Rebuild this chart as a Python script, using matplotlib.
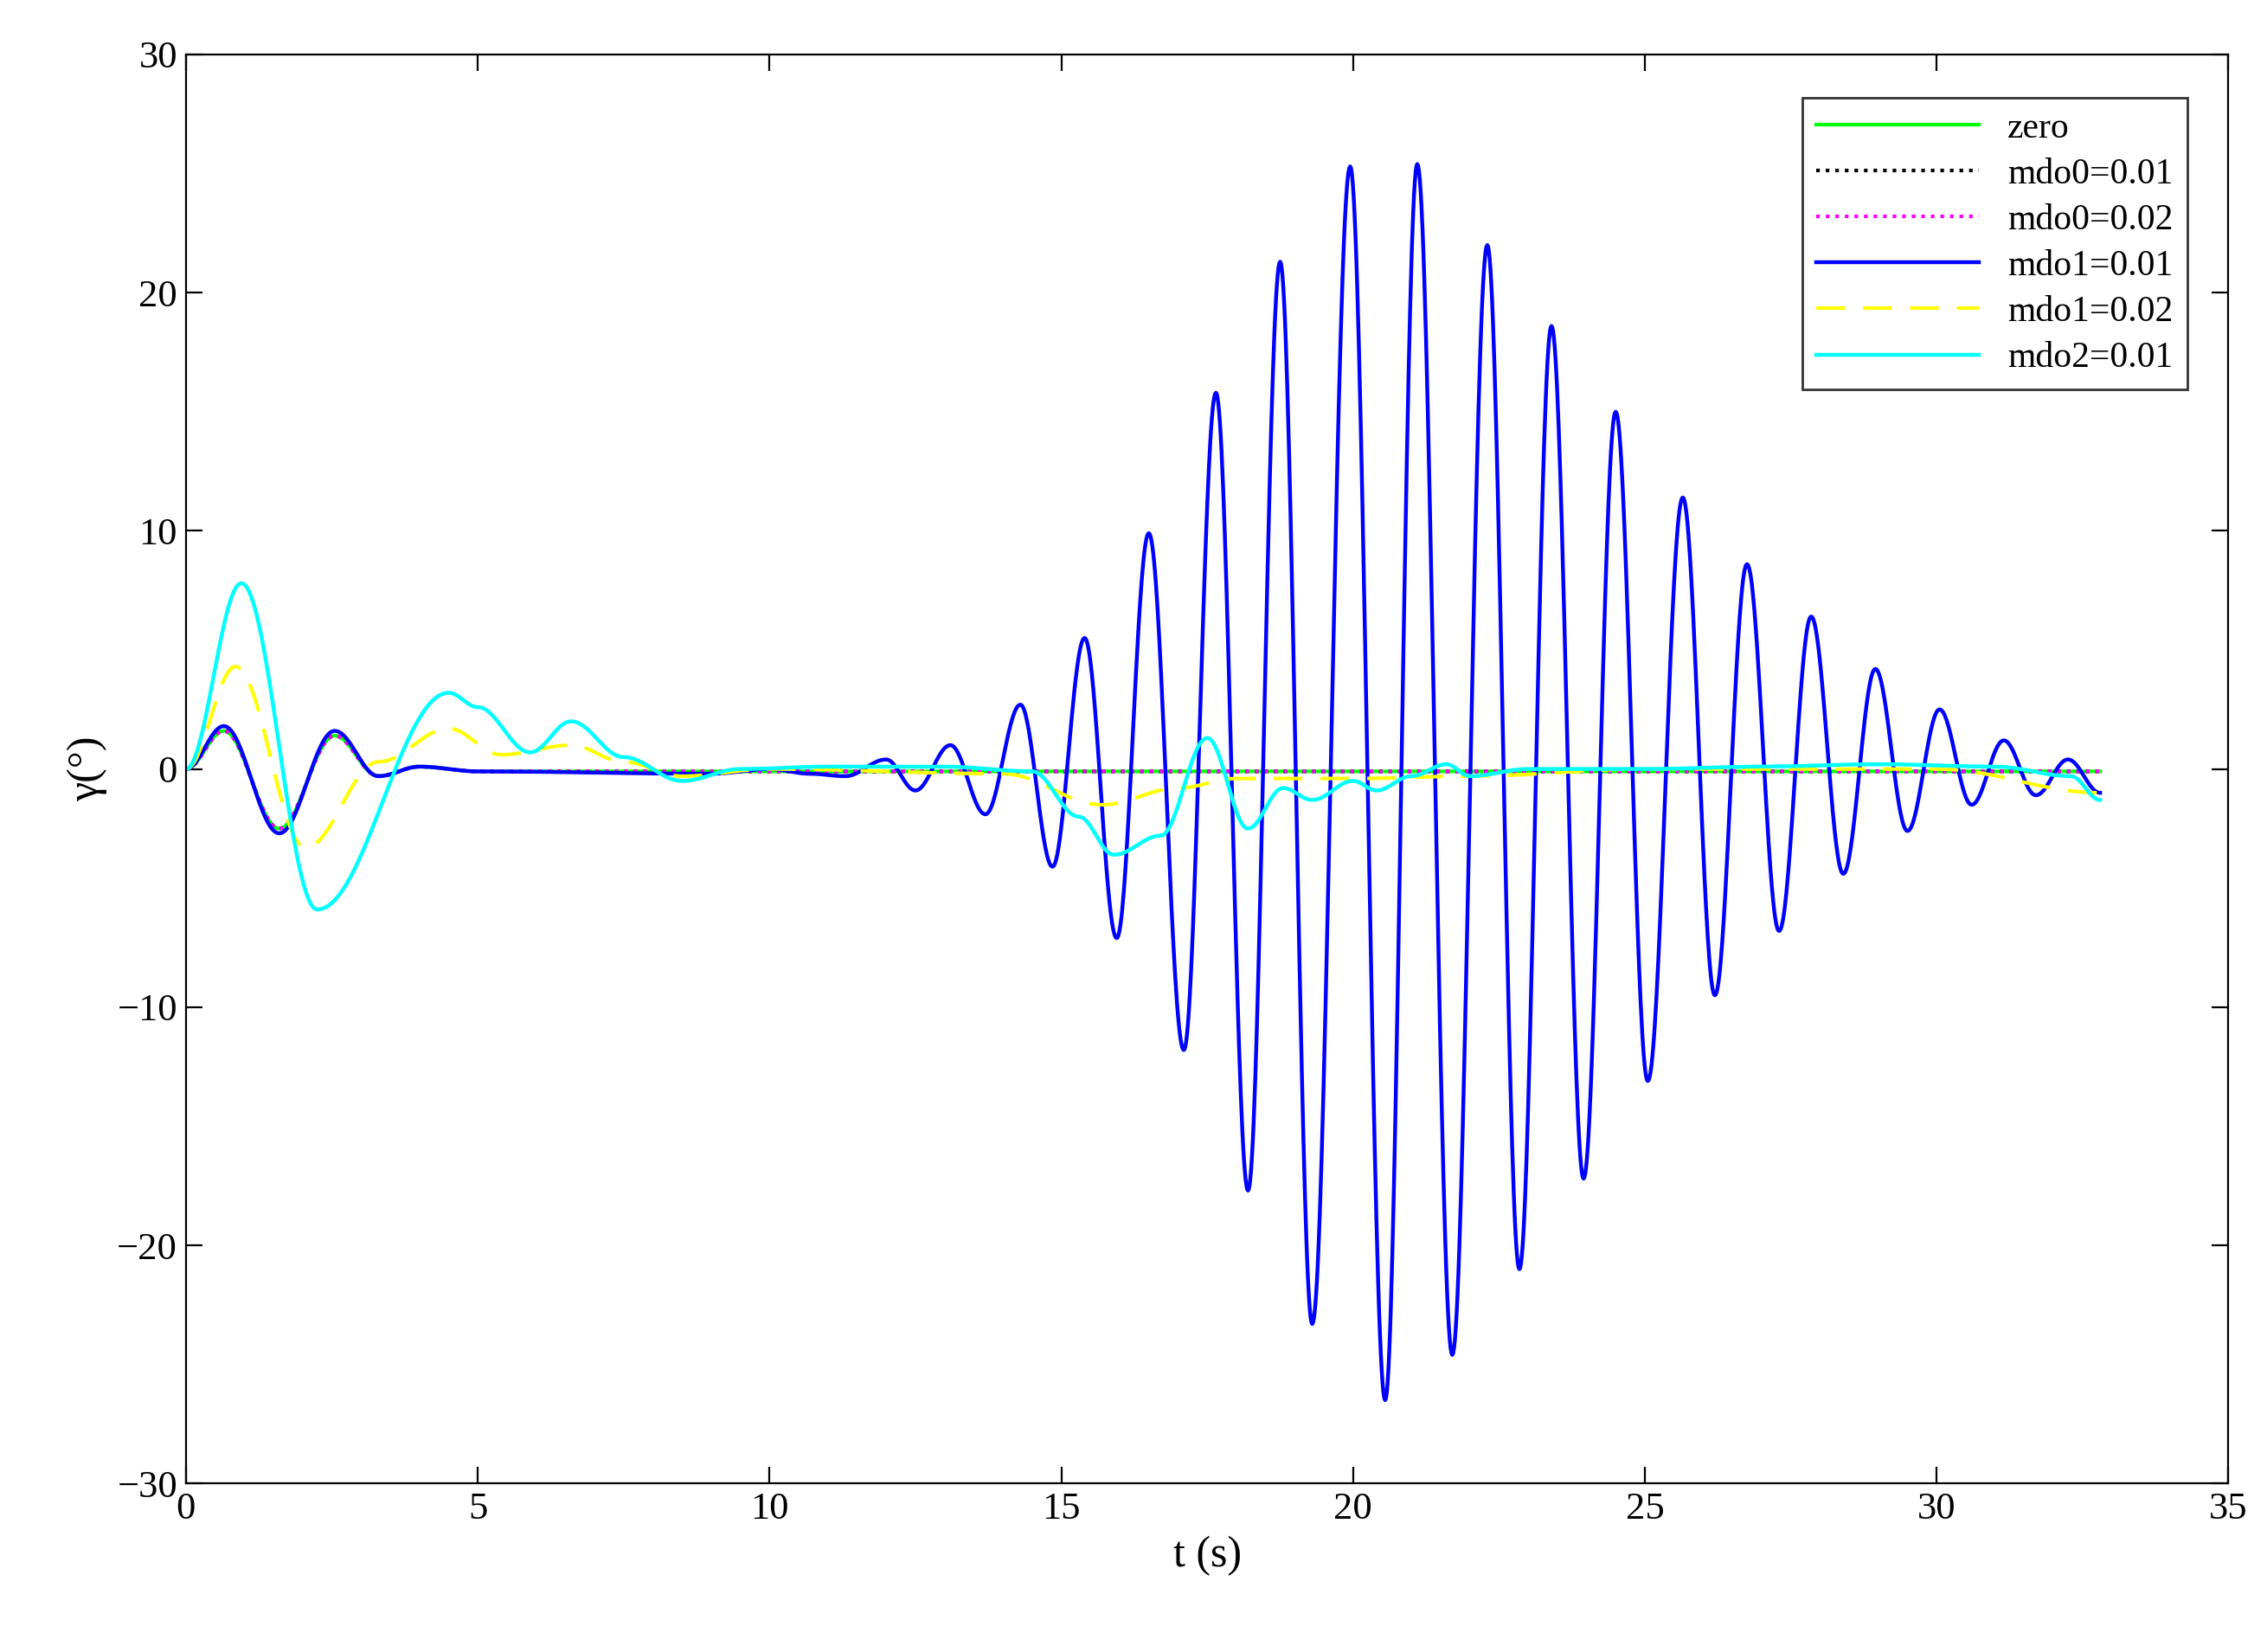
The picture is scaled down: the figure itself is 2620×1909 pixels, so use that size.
import matplotlib
matplotlib.use("Agg")
import matplotlib.pyplot as plt
import numpy as np

# key points (time s, gamma deg)
zero_t = [0, 0.65, 1.6, 2.55, 3.3, 4.0, 5.0, 10.0, 20.0, 32.8]
zero_g = [0, 1.6, -2.5, 1.4, -0.3, 0.1, -0.1, -0.1, -0.1, -0.1]

mdo1_001_t = [0, 0.65, 1.6, 2.55, 3.3, 4.0, 5.0, 9.0, 10.0, 10.7, 11.3, 12.0, 12.5, 13.1,
              13.7, 14.3, 14.85, 15.4, 15.95, 16.5, 17.1, 17.65, 18.2, 18.75, 19.3,
              19.95, 20.55, 21.1, 21.7, 22.3, 22.85, 23.4, 23.95, 24.5, 25.05, 25.65,
              26.2, 26.75, 27.3, 27.85, 28.4, 28.95, 29.5, 30.05, 30.6, 31.15, 31.7,
              32.25, 32.8]
mdo1_001_g = [0, 1.8, -2.7, 1.6, -0.3, 0.1, -0.1, -0.2, 0.0, -0.2, -0.3, 0.4, -0.9, 1.0,
              -1.9, 2.7, -4.1, 5.5, -7.1, 9.9, -11.8, 15.8, -17.7, 21.3, -23.3,
              25.3, -26.5, 25.4, -24.6, 22.0, -21.0, 18.6, -17.2, 15.0, -13.1, 11.4,
              -9.5, 8.6, -6.8, 6.4, -4.4, 4.2, -2.6, 2.5, -1.5, 1.2, -1.1,
              0.4, -1.0]

mdo1_002_t = [0, 0.85, 2.05, 3.3, 4.5, 5.4, 6.6, 7.5, 8.5, 10.0, 14.0, 15.7, 17.0, 18.0,
              20.0, 22.0, 25.0, 30.0, 32.8]
mdo1_002_g = [0, 4.3, -3.3, 0.3, 1.7, 0.6, 1.0, 0.3, -0.3, 0.0, -0.2, -1.5, -0.8, -0.4,
              -0.4, -0.3, 0.0, 0.0, -1.0]

mdo2_001_t = [0, 0.95, 2.25, 4.5, 5.0, 5.9, 6.6, 7.5, 8.5, 9.5, 11.0, 13.0, 14.5, 15.3,
              15.9, 16.7, 17.5, 18.2, 18.8, 19.3, 20.0, 20.4, 21.0, 21.6, 22.0, 23.0,
              25.0, 27.0, 29.0, 31.0, 32.3, 32.8]
mdo2_001_g = [0, 7.8, -5.9, 3.2, 2.6, 0.7, 2.0, 0.5, -0.5, 0.0, 0.1, 0.1, -0.1, -2.0,
              -3.6, -2.8, 1.3, -2.5, -0.8, -1.3, -0.5, -0.9, -0.3, 0.2, -0.3, 0.0,
              0.0, 0.1, 0.2, 0.1, -0.3, -1.3]


def smooth(t_keys, g_keys, n=40):
    """Half-cosine blend between consecutive key points."""
    ts, gs = [], []
    s = np.linspace(0, 1, n, endpoint=False)
    w = (1 - np.cos(np.pi * s)) / 2
    for i in range(len(t_keys) - 1):
        ts.append(t_keys[i] + (t_keys[i + 1] - t_keys[i]) * s)
        gs.append(g_keys[i] + (g_keys[i + 1] - g_keys[i]) * w)
    ts.append([t_keys[-1]])
    gs.append([g_keys[-1]])
    return np.concatenate(ts), np.concatenate(gs)


plt.rcParams["font.family"] = ["Liberation Serif", "DejaVu Serif"]
plt.rcParams["font.size"] = 16

fig = plt.figure(figsize=(13.1, 9.545), dpi=200)
ax = fig.add_axes([0.082, 0.102, 0.901, 0.865])

t, g = smooth(zero_t, zero_g)
ax.plot(t, g, color="#00ff00", lw=1.5, label="zero")
ax.plot(t, g, color="black", lw=1.5, ls=":", label="mdo0=0.01")
ax.plot(t, g, color="magenta", lw=1.5, ls=":", label="mdo0=0.02")
t, g = smooth(mdo1_001_t, mdo1_001_g)
ax.plot(t, g, color="#0000ff", lw=1.6, label="mdo1=0.01")
t, g = smooth(mdo1_002_t, mdo1_002_g)
ax.plot(t, g, color="yellow", lw=1.5, ls=(0, (8, 5)), label="mdo1=0.02")
t, g = smooth(mdo2_001_t, mdo2_001_g)
ax.plot(t, g, color="cyan", lw=1.6, label="mdo2=0.01")

ax.set_xlim(0, 35)
ax.set_ylim(-30, 30)
ax.set_xticks(range(0, 36, 5))
ax.set_yticks(range(-30, 31, 10))
ax.tick_params(direction="in", top=True, right=True, length=7, labelsize=16)
ax.set_xlabel("t (s)", fontsize=18)
ax.set_ylabel("γ(°)", fontsize=18)

leg = ax.legend(loc="upper right", bbox_to_anchor=(0.98, 0.97), fontsize=15,
                fancybox=False, edgecolor="black", handlelength=4.5,
                borderaxespad=0, labelspacing=0.35)
leg.get_frame().set_linewidth(1.0)

fig.savefig("out.png", dpi=200)
